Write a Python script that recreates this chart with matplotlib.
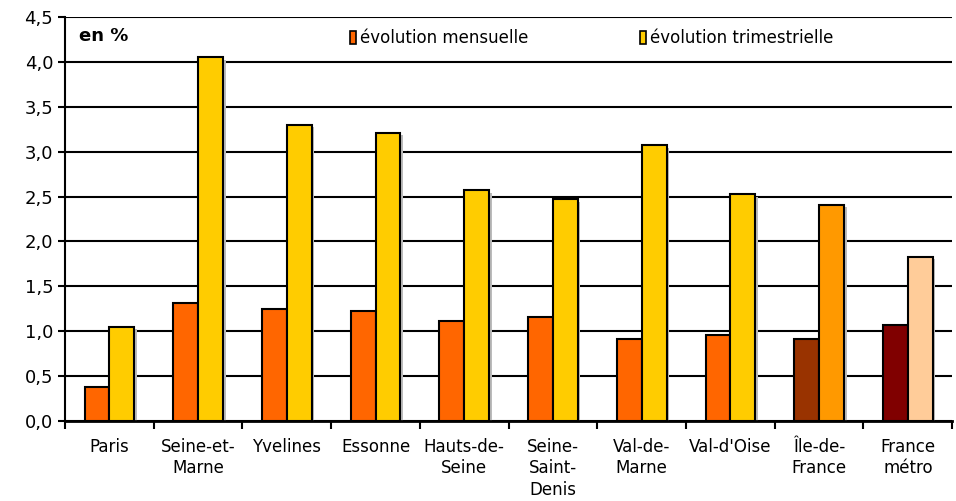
import matplotlib.pyplot as plt
import numpy as np
from matplotlib.patches import Rectangle
from matplotlib.ticker import MultipleLocator, FuncFormatter

categories = ["Paris", "Seine-et-\nMarne", "Yvelines", "Essonne", "Hauts-de-\nSeine",
              "Seine-\nSaint-\nDenis", "Val-de-\nMarne", "Val-d'Oise", "Île-de-\nFrance", "France\nmétro"]
mensuelle = [0.38, 1.31, 1.25, 1.22, 1.11, 1.16, 0.91, 0.96, 0.91, 1.07]
trimestrielle = [1.05, 4.05, 3.30, 3.21, 2.57, 2.47, 3.07, 2.53, 2.41, 1.83]
col_m = ["#FF6600"] * 8 + ["#993300", "#800000"]
col_t = ["#FFCC00"] * 8 + ["#FF9900", "#FFCC99"]
legend_labels = ["évolution mensuelle", "évolution trimestrielle"]

plt.rcParams['font.family'] = ['DejaVu Sans']

fig = plt.figure(figsize=(9.56, 5.01), dpi=100)
ax = fig.add_axes([0.068, 0.160, 0.928, 0.806])

x = np.arange(len(categories))
w = 0.28
for i in range(len(categories)):
    ax.bar(x[i] - w / 2 + 0.03, mensuelle[i], w, bottom=-0.03, color="#BBBBBB", zorder=2, linewidth=0)
    ax.bar(x[i] + w / 2 + 0.03, trimestrielle[i], w, bottom=-0.03, color="#BBBBBB", zorder=2, linewidth=0)
ax.bar(x - w / 2, mensuelle, w, color=col_m, edgecolor="black", linewidth=1.5, zorder=3)
ax.bar(x + w / 2, trimestrielle, w, color=col_t, edgecolor="black", linewidth=1.5, zorder=3)

ax.set_xlim(-0.5, len(categories) - 0.5)
ax.set_ylim(0, 4.5)
ax.yaxis.set_major_locator(MultipleLocator(0.5))
ax.yaxis.set_major_formatter(FuncFormatter(lambda v, p: f"{v:.1f}".replace(".", ",")))
ax.grid(axis="y", color="black", linewidth=1.5, zorder=1)
ax.set_axisbelow(True)

ax.set_xticks(x)
ax.set_xticklabels(categories, fontsize=12, linespacing=1.25, va="top")
ax.tick_params(axis="x", length=0, pad=12)
ax.set_xticks(np.arange(len(categories) + 1) - 0.5, minor=True)
ax.tick_params(axis="x", which="minor", length=6, width=1.5, direction="out")
ax.tick_params(axis="y", labelsize=13, length=5, width=1.5, direction="out")

for s in ["top", "right"]:
    ax.spines[s].set_visible(False)
ax.spines["left"].set_linewidth(1.5)
ax.spines["bottom"].set_linewidth(2)

ax.text(0.016, 0.975, "en %", transform=ax.transAxes, fontsize=13, fontweight="bold", va="top", ha="left")

for xa, lab, c in [(0.321, legend_labels[0], "#FF6600"), (0.648, legend_labels[1], "#FFCC00")]:
    ax.add_patch(Rectangle((xa, 0.933), 0.007, 0.032, transform=ax.transAxes, facecolor=c,
                           edgecolor="black", linewidth=1.2, zorder=5, clip_on=False))
    ax.text(xa + 0.011, 0.949, lab, transform=ax.transAxes, fontsize=12, va="center", ha="left")

fig.savefig("out.png", dpi=100)
